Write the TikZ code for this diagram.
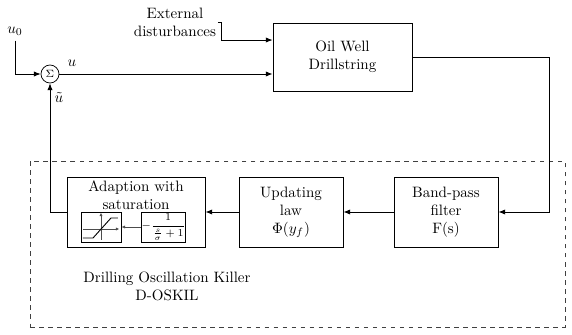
\documentclass[tikz,border=0pt]{standalone}
\usetikzlibrary{arrows.meta}
\begin{document}
\begin{tikzpicture}[x=0.665pt,y=-0.665pt,
  blk/.style={draw, line width=0.6pt, align=center, inner sep=0pt},
  conn/.style={line width=0.5pt, -{Latex[length=4.5pt,width=3.5pt]}},
  small/.style={draw, line width=0.5pt, inner sep=0pt}]
\useasboundingbox (0,0) rectangle (572,335);
% dashed frame
\node[draw, dashed, line width=0.5pt, draw=black!75, minimum width={535*0.665pt}, minimum height={166*0.665pt}, inner sep=0pt] (dbox) at (297.5,244) {};
% plant
\node[blk, minimum width={139*0.665pt}, minimum height={68*0.665pt}] (oil) at (342.5,57) {Oil Well\\Drillstring};
% sum
\node[circle, draw, line width=0.5pt, minimum size={18*0.665pt}, inner sep=0pt] (sum) at (50,74) {$\scriptstyle\Sigma$};
\node (u0) at (15,31) {$u_0$};
\node (ulab) at (72,63) {$u$};
\node (utl) at (59,97) {$\tilde u$};
\node[align=center, inner sep=1pt] (ext) at (175,22) {External\\disturbances};
% lower blocks
\node[blk, minimum width={138*0.665pt}, minimum height={70*0.665pt}] (adapt) at (136,212) {};
\node[align=center, inner sep=0pt] (adtxt) at (136,195) {Adaption with\\saturation};
\node[blk, minimum width={104*0.665pt}, minimum height={70*0.665pt}] (upd) at (291,212) {Updating\\law\\$\Phi(y_f)$};
\node[blk, minimum width={104*0.665pt}, minimum height={70*0.665pt}] (bp) at (446,212) {Band-pass\\filter\\F(s)};
% inner boxes
\node[small, minimum width={40*0.665pt}, minimum height={30*0.665pt}] (sat) at (101,227) {};
\node[small, minimum width={39*0.665pt}, minimum height={30*0.665pt}] (frac) at (163.5,227) {\scriptsize$\displaystyle-\frac{1}{\frac{s}{\sigma}+1}$};
% saturation plot
\draw[line width=0.3pt, black!70, -{Latex[length=2pt,width=2pt]}] (83,229) -- (119,229);
\draw[line width=0.3pt, black!70, -{Latex[length=2pt,width=2pt]}] (101,240) -- (101,213);
\draw[line width=0.6pt] (83,238) -- (93,238) -- (111,218) -- (118,218);
\draw[line width=0.3pt, black!70, -{Latex[length=2.5pt,width=2pt]}] (frac.west) -- (sat.east);
% label
\node[align=center] (dlabel) at (167,286) {Drilling Oscillation Killer\\D-OSKIL};
% connectors
\draw[conn] (u0.south) |- (sum.west);
\draw[conn] (sum.east) -- (sum -| oil.west);
\draw[conn] (ext.east) -- ++(4,0) |- ([yshift=11.3pt]oil.west);
\draw[conn] (oil.east) -- ++(137,0) |- (bp.east);
\draw[conn] (bp.west) -- (upd.east);
\draw[conn] (upd.west) -- (adapt.east);
\draw[conn] (adapt.west) -| (sum.south);
\end{tikzpicture}
\end{document}
